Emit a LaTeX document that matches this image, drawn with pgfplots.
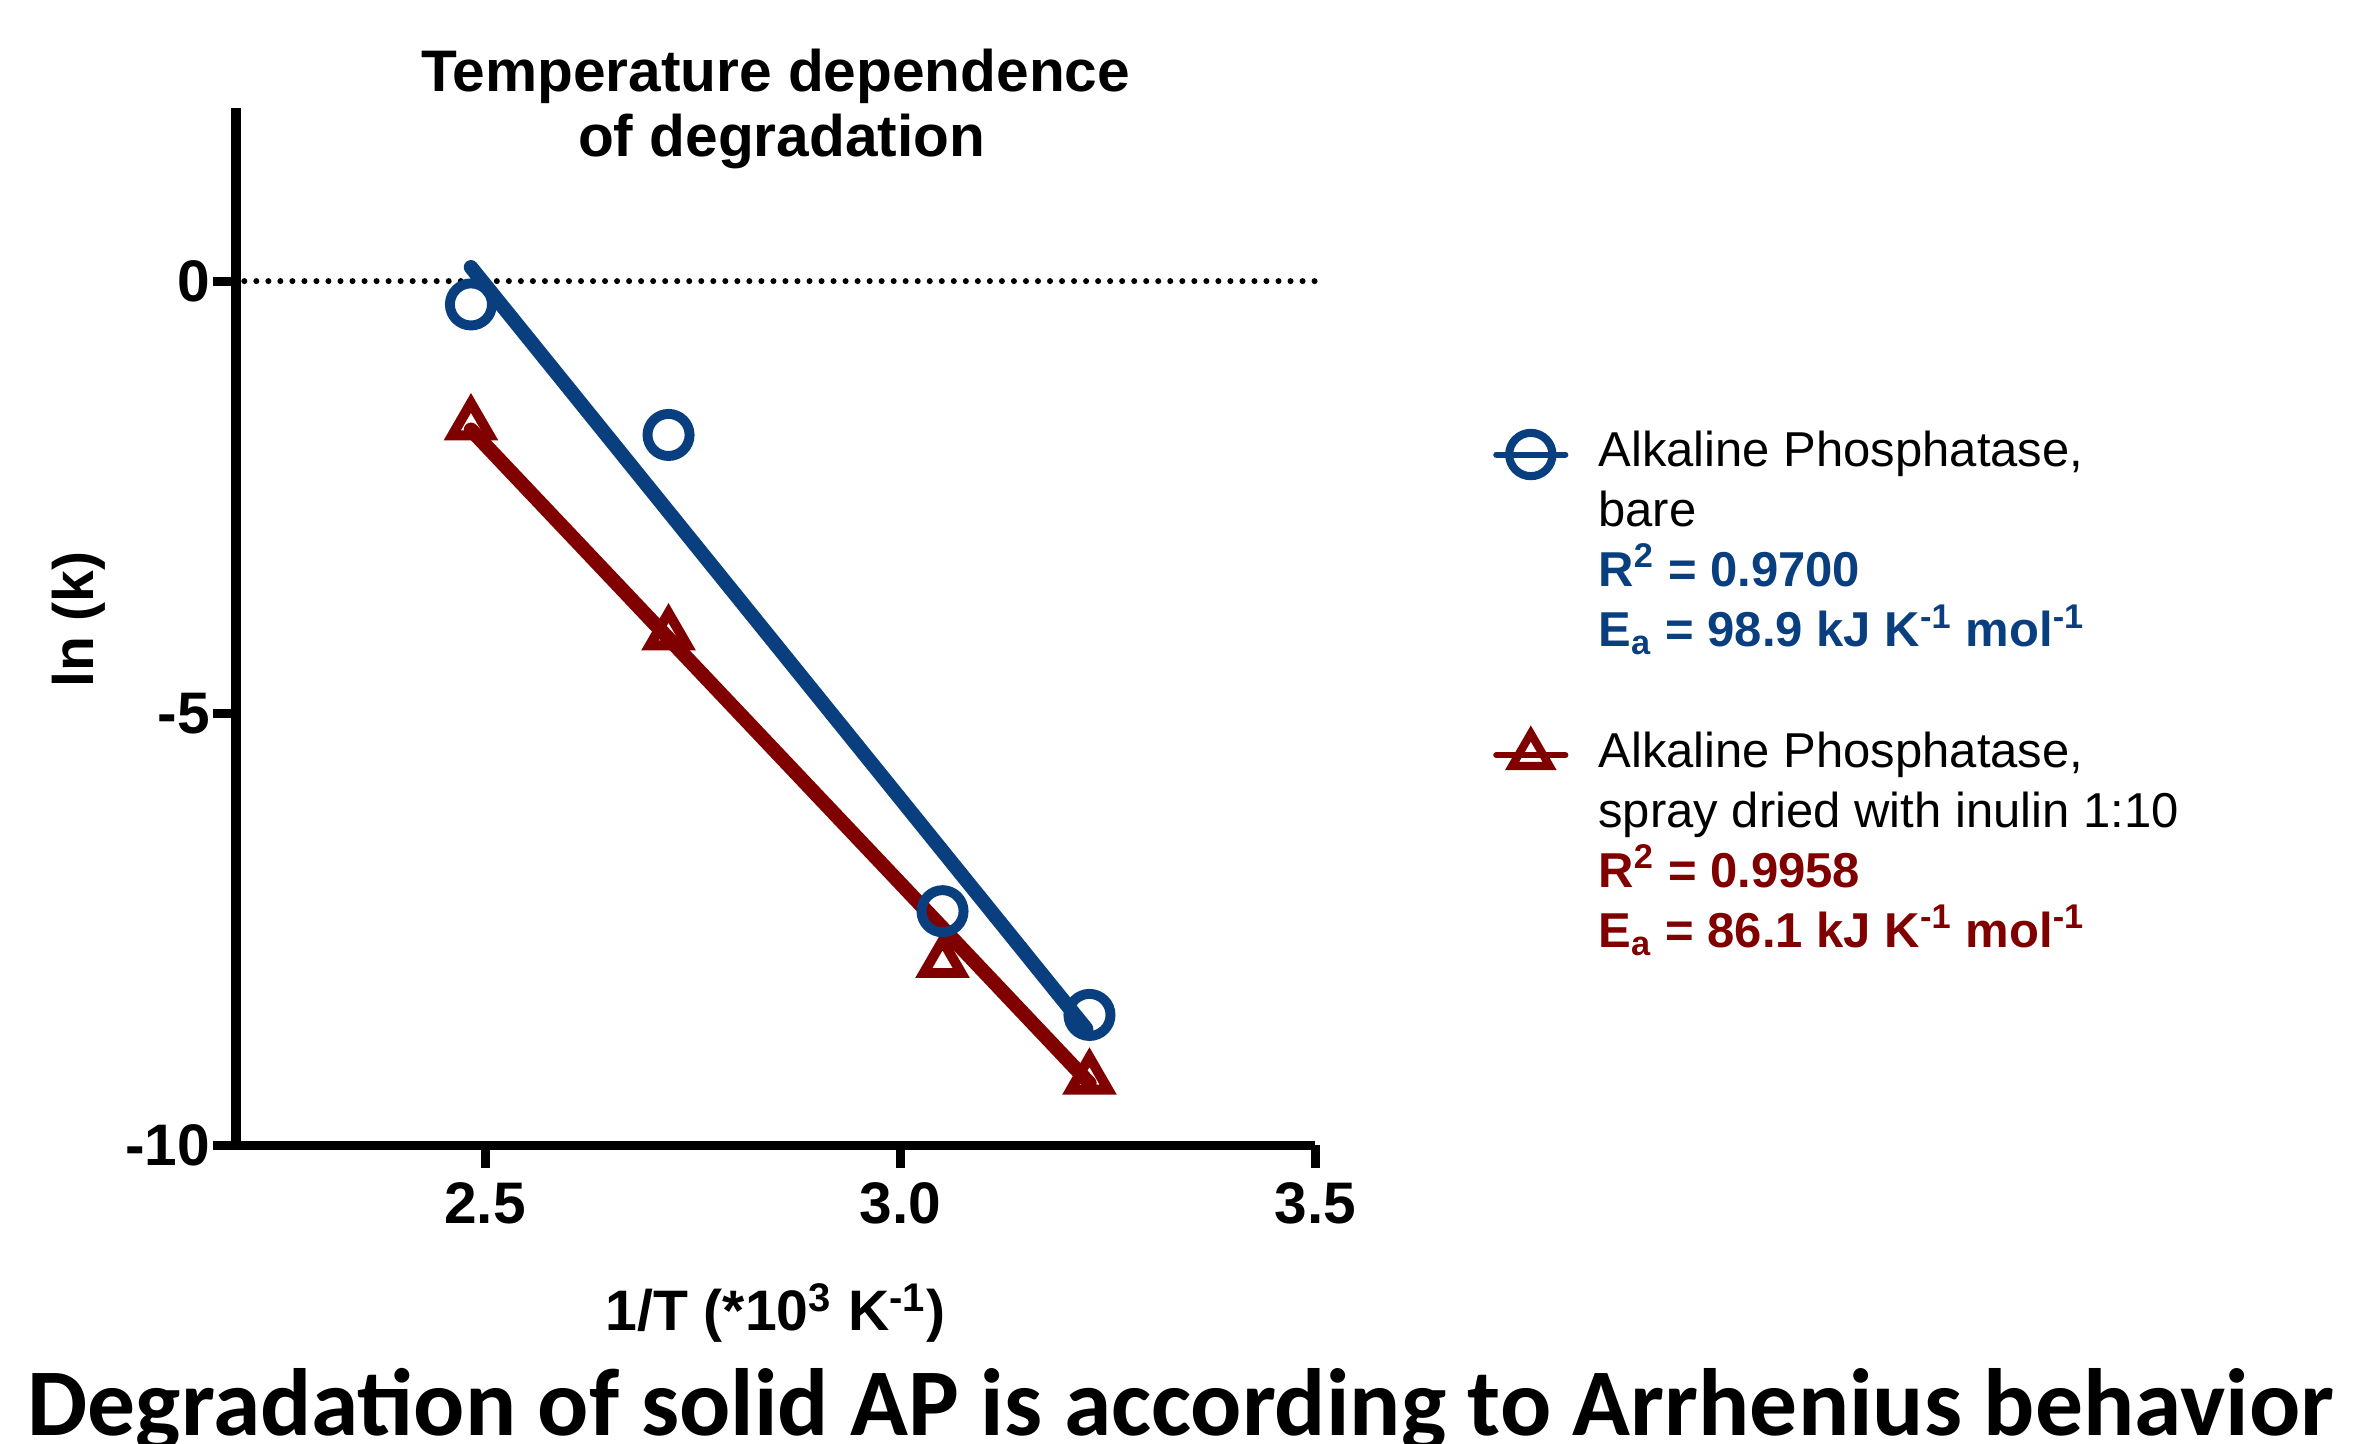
\documentclass[border=0pt]{standalone}
\usepackage{graphicx}
\usepackage{pgfplots}
\pgfplotsset{compat=1.18}
\usepackage{fontspec}
\setmainfont{Liberation Sans}
\newfontfamily\capfont{Carlito}
\definecolor{apblue}{RGB}{10,63,127}
\definecolor{apred}{RGB}{128,0,0}

\begin{document}
\begin{tikzpicture}
\useasboundingbox (0,0) rectangle (784pt,480pt);
\begin{axis}[
  at={(78.5pt,99pt)}, anchor=south west,
  scale only axis, width=359pt, height=345pt,
  xmin=2.2, xmax=3.5, ymin=-10, ymax=2,
  axis x line=bottom, axis y line=left,
  axis line style={-, line width=3pt, black},
  xtick={2.5,3,3.5}, xticklabels={2.5,3.0,3.5},
  ytick={-10,-5,0}, yticklabels={-10,-5,0},
  tick align=outside, major tick length=7.5pt,
  tick style={line width=3pt, black},
  minor tick num=0,
  tick label style={font=\fontsize{19.5}{23}\selectfont\bfseries},
  xticklabel style={inner sep=4.5pt},
  yticklabel style={inner sep=1pt},
  xlabel={1/T (*10\textsuperscript{3} K\textsuperscript{-1})},
  ylabel={ln (k)},
  label style={font=\fontsize{19}{23}\selectfont\bfseries},
  xlabel style={at={(axis description cs:0.5,-0.178)}, anchor=base},
  ylabel style={at={(axis description cs:-0.146,0.507)}, anchor=center},
  clip=false,
  legend style={at={(axis description cs:1.1643,0.6957)}, anchor=north west,
    draw=none, fill=none, inner sep=0pt, column sep=10pt, row sep=0pt,
    nodes={inner sep=0pt, text height=14pt, text depth=6pt},
    font=\fontsize{16.3}{20}\selectfont},
  legend cell align=left,
  legend image code/.code={\draw[mark repeat=2, mark phase=2] plot coordinates {(0pt,0pt) (11.5pt,0pt) (23pt,0pt)};},
]
% zero reference line
\addplot[forget plot, black, line width=2pt, line cap=round, dash pattern=on 0pt off 4pt] coordinates {(2.21,0) (3.5,0)};
% fitted lines
\addplot[forget plot, apred, line width=4.8pt, line cap=round] coordinates {(2.483,-1.72) (3.228,-9.28)};
\addplot[forget plot, apblue, line width=4.8pt, line cap=round] coordinates {(2.483,0.16) (3.224,-8.65)};
% data
\addplot[forget plot, only marks, apred, mark=triangle, mark size=7.2pt, mark options={line width=3.3pt}] coordinates {(2.483,-1.66) (2.721,-4.09) (3.051,-7.88) (3.228,-9.23)};
\addplot[forget plot, only marks, apblue, mark=o, mark size=7pt, mark options={line width=3.3pt}] coordinates {(2.483,-0.27) (2.721,-1.78) (3.051,-7.29) (3.228,-8.49)};
% legend
\addlegendimage{apblue, line width=2pt, line cap=round, mark=o, mark size=7.2pt, mark options={line width=2.7pt}}
\addlegendentry{Alkaline Phosphatase,}
\addlegendimage{empty legend}\addlegendentry{bare}
\addlegendimage{empty legend}\addlegendentry{\textcolor{apblue}{\bfseries R\textsuperscript{2} = 0.9700}}
\addlegendimage{empty legend}\addlegendentry{\textcolor{apblue}{\bfseries E\textsubscript{a} = 98.9 kJ K\textsuperscript{-1} mol\textsuperscript{-1}}}
\addlegendimage{empty legend}\addlegendentry{}
\addlegendimage{apred, line width=2pt, line cap=round, mark=triangle, mark size=7.2pt, mark options={line width=2.7pt}}
\addlegendentry{Alkaline Phosphatase,}
\addlegendimage{empty legend}\addlegendentry{spray dried with inulin 1:10}
\addlegendimage{empty legend}\addlegendentry{\textcolor{apred}{\bfseries R\textsuperscript{2} = 0.9958}}
\addlegendimage{empty legend}\addlegendentry{\textcolor{apred}{\bfseries E\textsubscript{a} = 86.1 kJ K\textsuperscript{-1} mol\textsuperscript{-1}}}
\end{axis}
\node[anchor=base, font=\fontsize{19.5}{23}\selectfont\bfseries] at (258pt,449.5pt) {Temperature dependence};
\node[anchor=base, font=\fontsize{19.5}{23}\selectfont\bfseries] at (260pt,428pt) {of degradation};
\node[anchor=base west, inner sep=0pt] at (9pt,2.5pt) {\resizebox{767pt}{!}{\capfont\bfseries Degradation of solid AP is according to Arrhenius behavior}};
\end{tikzpicture}
\end{document}
